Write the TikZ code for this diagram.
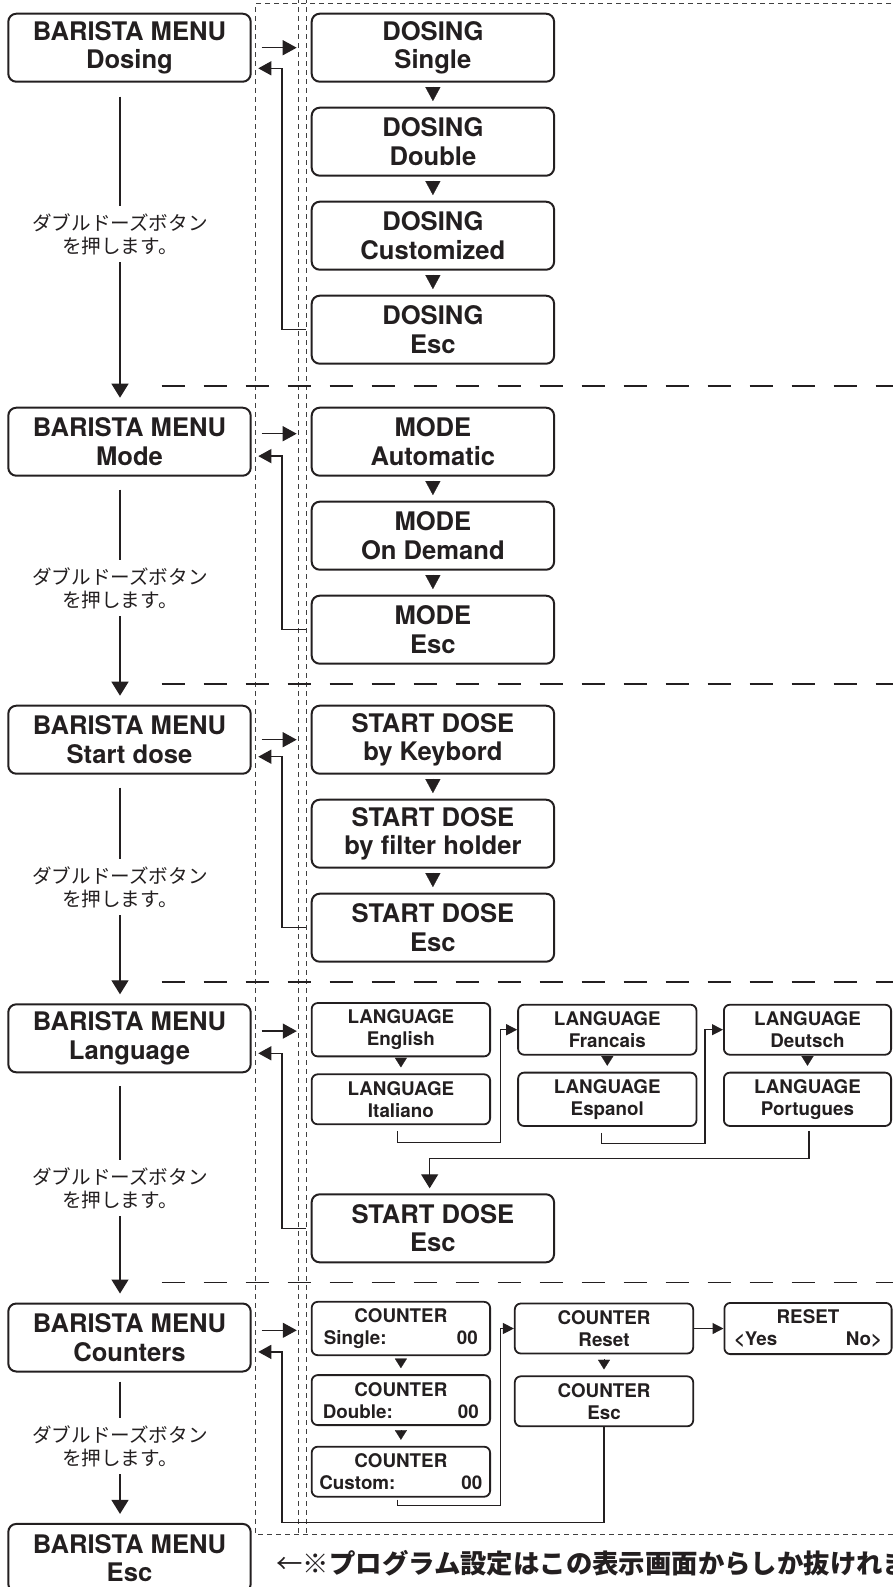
\documentclass[tikz,border=0pt]{standalone}
\usepackage{fontspec}
\setmainfont{TeX Gyre Heros}
\newfontfamily\jpfont{Noto Sans CJK JP}
\usepackage{xcolor}
\usepackage{tikz}
\usetikzlibrary{positioning, arrows.meta}
\definecolor{ink}{RGB}{35,31,32}
\tikzstyle{menu} = [rectangle, draw=ink, line width=1pt, rounded corners=4pt,
    minimum width=121.2pt, minimum height=34pt, text=ink, align=center,
    font=\bfseries\fontsize{12.8}{14.2}\selectfont]
\tikzstyle{item} = [rectangle, draw=ink, line width=0.9pt, rounded corners=3pt,
    minimum width=89.2pt, minimum height=25pt, text=ink, align=center,
    font=\bfseries\fontsize{9.4}{11}\selectfont]
\tikzstyle{itemcut} = [item, minimum width=83.6pt]
\tikzstyle{hint} = [text=ink, align=center, inner sep=3.5pt,
    font=\jpfont\fontsize{9.8}{11.5}\selectfont]
\tikzstyle{note} = [text=ink, inner sep=0pt, anchor=west,
    font=\jpfont\bfseries\fontsize{13.2}{15}\selectfont]
\tikzstyle{wire} = [draw=ink, line width=0.65pt]
\tikzstyle{flow} = [wire, -{Triangle[length=7pt,width=8.5pt]}, shorten >=4.5pt]
\tikzstyle{fwd} = [wire, -{Triangle[length=7pt,width=7.5pt]}, shorten <=5pt, shorten >=7pt]
\tikzstyle{back} = [wire, -{Triangle[length=6.5pt,width=7pt]}, shorten <=2.5pt, shorten >=3.3pt]
\tikzstyle{link} = [wire, line width=0.6pt, -{Triangle[length=5.5pt,width=5.5pt]}]
\tikzstyle{nextbig} = [draw=ink, line width=0.1pt, -{Triangle[length=7pt,width=7.5pt]},
    shorten <=2pt, shorten >=2.8pt]
\tikzstyle{nextsmall} = [draw=ink, line width=0.1pt, -{Triangle[length=4.8pt,width=6pt]},
    shorten <=1.4pt, shorten >=3pt]
\tikzstyle{frame} = [draw=black!75, line width=0.5pt, dash pattern=on 2.5pt off 2pt]
\tikzstyle{split} = [draw=ink, line width=0.7pt, dash pattern=on 11.5pt off 9.5pt]

\begin{document}
\begin{tikzpicture}[x=0.5pt, y=-0.5pt]
\useasboundingbox (0,0) rectangle (893,1587);

% Frame and separators
\draw [frame] (900,3.3) -- (255.5,3.3) -- (255.5,1534) -- (900,1534);
\draw [frame] (298,-2) -- (298,1534);
\draw [frame] (306.7,-2) -- (306.7,1534);
\draw [split] (161.7,386) -- (900,386);
\draw [split] (161.7,684) -- (900,684);
\draw [split] (161.7,982) -- (900,982);
\draw [split] (161.7,1282.7) -- (900,1282.7);

% Nodes
\node [menu] (bm1) at (129.5,47.7) {BARISTA MENU\\Dosing};
\node [menu, below of=bm1, node distance=197pt] (bm2) {BARISTA MENU\\Mode};
\node [menu, below of=bm2, node distance=149pt] (bm3) {BARISTA MENU\\Start dose};
\node [menu, below of=bm3, node distance=149.3pt] (bm4) {BARISTA MENU\\Language};
\node [menu, below of=bm4, node distance=149.6pt] (bm5) {BARISTA MENU\\Counters};
\node [menu, below of=bm5, node distance=110.2pt] (bm6) {BARISTA MENU\\Esc};

\node [hint] (h1) at (120,234) {ダブルドーズボタン\\を押します。};
\node [hint] (h2) at (120,588) {ダブルドーズボタン\\を押します。};
\node [hint] (h3) at (120,887) {ダブルドーズボタン\\を押します。};
\node [hint] (h4) at (120,1188) {ダブルドーズボタン\\を押します。};
\node [hint] (h5) at (120,1446) {ダブルドーズボタン\\を押します。};

\node [menu, right of=bm1, node distance=151.7pt] (d1) {DOSING\\Single};
\node [menu, below of=d1, node distance=47pt] (d2) {DOSING\\Double};
\node [menu, below of=d2, node distance=47pt] (d3) {DOSING\\Customized};
\node [menu, below of=d3, node distance=47pt] (d4) {DOSING\\Esc};

\node [menu, right of=bm2, node distance=151.7pt] (m1) {MODE\\Automatic};
\node [menu, below of=m1, node distance=47pt] (m2) {MODE\\On Demand};
\node [menu, below of=m2, node distance=47pt] (m3) {MODE\\Esc};

\node [menu, right of=bm3, node distance=151.7pt] (s1) {START DOSE\\by Keybord};
\node [menu, below of=s1, node distance=47pt] (s2) {START DOSE\\by filter holder};
\node [menu, below of=s2, node distance=47pt] (s3) {START DOSE\\Esc};

\node [item] (en) at (400.9,1029.7) {LANGUAGE\\English};
\node [item, below of=en, node distance=34.8pt] (it) {LANGUAGE\\Italiano};
\node [item, right of=en, node distance=103.2pt] (fr) {LANGUAGE\\Francais};
\node [item, below of=fr, node distance=34.8pt] (es) {LANGUAGE\\Espanol};
\node [itemcut, right of=fr, node distance=100.1pt] (de) {LANGUAGE\\Deutsch};
\node [itemcut, below of=de, node distance=34.8pt] (po) {LANGUAGE\\Portugues};
\node [menu] (le) at (432.85,1228.3) {START DOSE\\Esc};

\node [item] (c1) at (400.9,1328.5) {COUNTER\\\makebox[77pt]{Single:\hfill 00}};
\node [item, below of=c1, node distance=35.8pt] (c2) {COUNTER\\\makebox[78pt]{Double:\hfill 00}};
\node [item, below of=c2, node distance=35.8pt] (c3) {COUNTER\\\makebox[81.5pt]{Custom:\hfill 00}};
\node [item, right of=c1, node distance=101.55pt] (cr) {COUNTER\\Reset};
\node [item, below of=cr, node distance=36.4pt] (ce) {COUNTER\\Esc};
\node [itemcut, right of=cr, node distance=102pt] (rs) {RESET\\\makebox[74pt]{<Yes\hfill No>}};

\coordinate (ret) at (282,0);
\node [note] (nt) at (276,1563) {{\mdseries ←}※プログラム設定はこの表示画面からしか抜けれません};

% Connections
\draw [wire, shorten <=7pt] (h1 |- bm1.south) -- (h1);
\draw [flow] (h1) -- (h1 |- bm2.north);
\draw [wire, shorten <=6.5pt] (h2 |- bm2.south) -- (h2);
\draw [flow] (h2) -- (h2 |- bm3.north);
\draw [wire, shorten <=6.5pt] (h3 |- bm3.south) -- (h3);
\draw [flow] (h3) -- (h3 |- bm4.north);
\draw [wire, shorten <=6.5pt] (h4 |- bm4.south) -- (h4);
\draw [flow] (h4) -- (h4 |- bm5.north);
\draw [wire, shorten <=4.5pt] (h5 |- bm5.south) -- (h5);
\draw [flow] (h5) -- (h5 |- bm6.north);

\draw [fwd] (bm1.east) -- (bm1.east -| d1.west);
\draw [fwd] ([yshift=4pt]bm2.east) -- ([yshift=4pt]bm2.east -| m1.west);
\draw [fwd] (bm3.east) -- (bm3.east -| s1.west);
\draw [fwd] ([yshift=3.6pt]bm4.east) -- ([yshift=3.6pt]bm4.east -| en.west);
\draw [fwd] ([yshift=3.6pt]bm5.east) -- ([yshift=3.6pt]bm5.east -| c1.west);

\draw [nextbig] (d1) -- (d2);
\draw [nextbig] (d2) -- (d3);
\draw [nextbig] (d3) -- (d4);
\draw [nextbig] (m1) -- (m2);
\draw [nextbig] (m2) -- (m3);
\draw [nextbig] (s1) -- (s2);
\draw [nextbig] (s2) -- (s3);
\draw [nextsmall] (en) -- (it);
\draw [nextsmall] (fr) -- (es);
\draw [nextsmall] (de) -- (po);
\draw [nextsmall, shorten <=2.4pt] (c1) -- (c2);
\draw [nextsmall, shorten <=2.4pt] (c2) -- (c3);
\draw [nextsmall, shorten <=2.4pt] (cr) -- (ce);

\draw [back] (d4.west) -- (d4.west -| ret) |- ([yshift=-10.3pt]bm1.east);
\draw [back] (m3.west) -- (m3.west -| ret) |- ([yshift=-7.2pt]bm2.east);
\draw [back] (s3.west) -- (s3.west -| ret) |- ([yshift=-8.5pt]bm3.east);
\draw [back] (le.west) -- (le.west -| ret) |- ([yshift=-7.5pt]bm4.east);
\draw [back, shorten <=0pt] (ce.south) -- ([yshift=-47.8pt]ce.south)
    -| ([yshift=-7.2pt]bm5.east -| ret) -- ([yshift=-7.2pt]bm5.east);

\draw [link] ([xshift=-1.7pt,yshift=-3pt]it.south) -- ++(0,11) -| ([xshift=-8.3pt]fr.west) -- (fr.west);
\draw [link] ([xshift=-2.8pt,yshift=-3pt]es.south) -- ++(0,11) -| ([xshift=-9pt]de.west) -- (de.west);
\draw [flow, line width=0.6pt, shorten >=2.5pt] ([xshift=0.7pt,yshift=-2pt]po.south) -- ++(0,28) -| ([xshift=-1.6pt]le.north);
\draw [link] ([xshift=-1.7pt,yshift=-1pt]c3.south) -- ++(0,6) -| ([xshift=-6.8pt]cr.west) -- (cr.west);
\draw [link] (cr.east) -- (rs.west);

\end{tikzpicture}
\end{document}
